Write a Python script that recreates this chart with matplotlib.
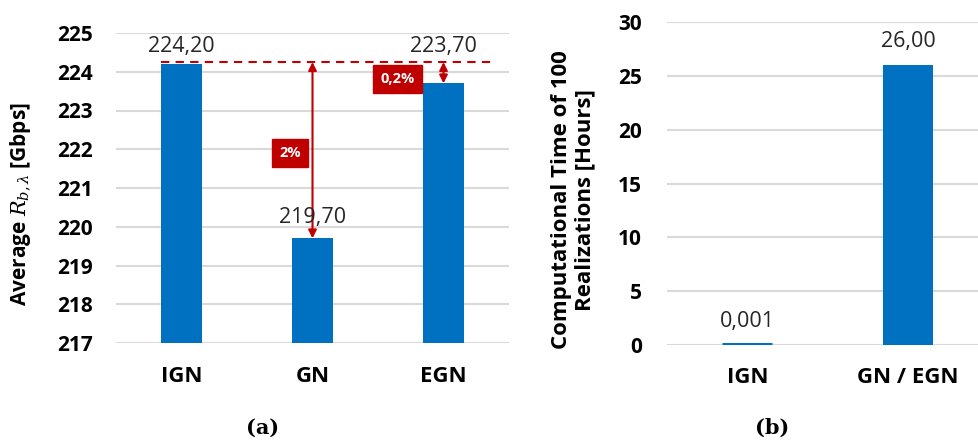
import matplotlib
matplotlib.use("Agg")
import matplotlib.pyplot as plt

# ---- data ----
cats_a = ["IGN", "GN", "EGN"]
vals_a = [224.20, 219.70, 223.70]
labels_a = ["224,20", "219,70", "223,70"]
ref_level = 224.25
pct_labels = ["2%", "0,2%"]

cats_b = ["IGN", "GN / EGN"]
vals_b = [0.001, 26.00]
labels_b = ["0,001", "26,00"]

yticks_a = [217, 218, 219, 220, 221, 222, 223, 224, 225]
yticks_b = [0, 5, 10, 15, 20, 25, 30]

BLUE = "#0070C0"
RED = "#C00000"
GRID = "#D9D9D9"
TXT = "#262626"
FONT = "Open Sans"

plt.rcParams['font.family'] = [FONT, 'DejaVu Sans']
plt.rcParams['mathtext.fontset'] = 'custom'
plt.rcParams['mathtext.it'] = 'DejaVu Serif:italic'
plt.rcParams['mathtext.rm'] = 'DejaVu Serif'

W, H = 979, 441
fig = plt.figure(figsize=(W / 100, H / 100), dpi=100)


def px_axes(x0, x1, ytop, ybot):
    return fig.add_axes([x0 / W, (H - ybot) / H, (x1 - x0) / W, (ybot - ytop) / H])


def style(ax, yticks, ypad, xpad):
    for s in ax.spines.values():
        s.set_visible(False)
    ax.set_yticks(yticks)
    ax.yaxis.grid(True, color=GRID, linewidth=1.5)
    ax.set_axisbelow(True)
    ax.tick_params(axis='both', length=0)
    ax.tick_params(axis='y', pad=ypad, labelsize=15, labelcolor='black')
    ax.tick_params(axis='x', pad=xpad, labelsize=16, labelcolor='black')
    for t in ax.get_yticklabels() + ax.get_xticklabels():
        t.set_fontweight('bold')


# ---- panel (a) ----
ax1 = px_axes(116, 509, 33, 343)
xa = list(range(len(cats_a)))
ax1.bar(xa, [v - 217 for v in vals_a], bottom=217, width=0.32, color=BLUE, zorder=2)
ax1.set_xlim(-0.5, 2.5)
ax1.set_ylim(217, 225)
ax1.set_xticks(xa)
ax1.set_xticklabels(cats_a)
style(ax1, yticks_a, 16.5, 16.5)
ax1.set_ylabel(r"Average $R_{b,\lambda}$ [Gbps]", fontsize=15, fontweight='bold')
ax1.yaxis.set_label_coords(-0.214, 0.448)

label_y_a = [vals_a[0] + 0.45, vals_a[1] + 0.55, vals_a[0] + 0.45]
for x, ly, lab in zip(xa, label_y_a, labels_a):
    ax1.text(x, ly, lab, ha='center', va='center', fontsize=15.5, color=TXT, zorder=4)

# dashed reference line and difference arrows
ax1.plot([-0.16, 2.36], [ref_level, ref_level], color=RED, linestyle=(0, (4, 3)),
         linewidth=1.5, zorder=3)
for xi, v in [(1, vals_a[1]), (2, vals_a[2])]:
    ax1.annotate("", xy=(xi, v), xytext=(xi, ref_level),
                 arrowprops=dict(arrowstyle="<|-|>", color=RED, lw=1.5,
                                 mutation_scale=12, shrinkA=0, shrinkB=0), zorder=3)
bbox = dict(boxstyle="square,pad=0.5", facecolor=RED, edgecolor=RED)
ax1.text(0.83, 221.9, pct_labels[0], ha='center', va='center', color='white',
         fontsize=10.5, fontweight='bold', bbox=bbox, zorder=5)
ax1.text(1.65, 223.81, pct_labels[1], ha='center', va='center', color='white',
         fontsize=10.5, fontweight='bold', bbox=bbox, zorder=5)

# ---- panel (b) ----
ax2 = px_axes(667, 979, 22, 345)
xb = list(range(len(cats_b)))
bars_b = ax2.bar(xb, vals_b, width=0.31, color=BLUE, edgecolor=BLUE, zorder=2)
bars_b[0].set_linewidth(3.6)
bars_b[1].set_linewidth(0)
ax2.set_xlim(-0.5, 1.44)
ax2.set_ylim(0, 30)
ax2.set_xticks(xb)
ax2.set_xticklabels(cats_b)
style(ax2, yticks_b, 18, 16)
ax2.set_ylabel("Computational Time of 100\nRealizations [Hours]", fontsize=16,
               fontweight='bold', linespacing=1.15)
ax2.yaxis.set_label_coords(-0.231, 0.449)
for x, v, lab in zip(xb, vals_b, labels_b):
    ax2.text(x, v + 2.2, lab, ha='center', va='center', fontsize=15.5, color=TXT, zorder=4)

# captions
fig.text(263 / W, 1 - 428 / H, "(a)", ha='center', va='center', fontsize=15,
         family='DejaVu Serif', fontweight='bold')
fig.text(772 / W, 1 - 428 / H, "(b)", ha='center', va='center', fontsize=15,
         family='DejaVu Serif', fontweight='bold')

fig.savefig("out.png", dpi=100)
